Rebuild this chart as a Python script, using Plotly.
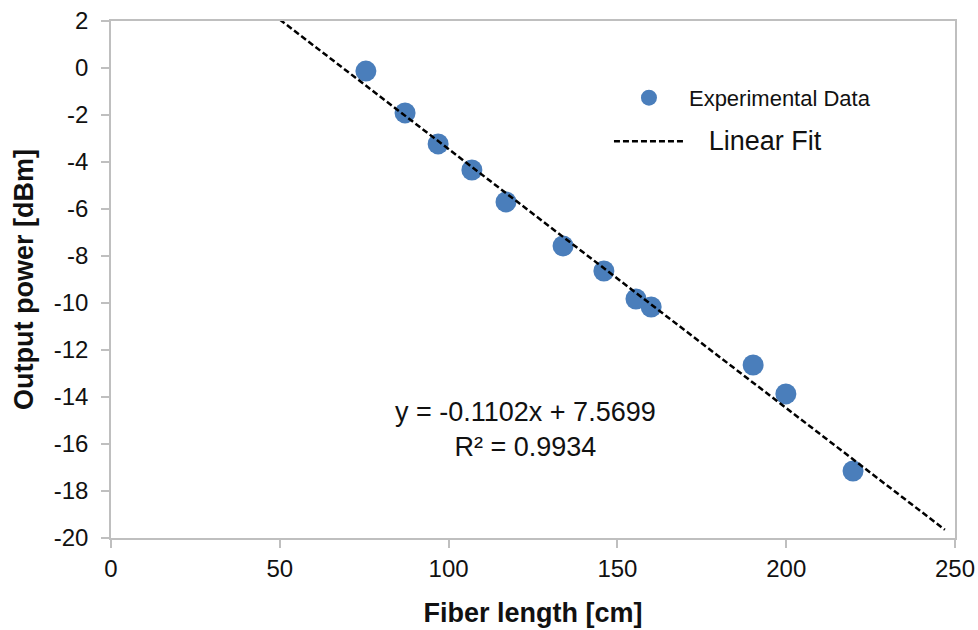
import plotly.graph_objects as go

# Data
fiber_length = [75.5, 87.1, 96.9, 106.9, 117.0, 133.9, 146.0, 155.5, 160.0, 190.2, 199.9, 219.8]
output_power = [-0.13, -1.91, -3.23, -4.34, -5.70, -7.57, -8.64, -9.83, -10.17, -12.64, -13.87, -17.15]

fit_x = [50.0, 247.0]
fit_y = [2.06, -19.65]

equation_text = "y = -0.1102x + 7.5699<br>R² = 0.9934"
eq_pos = (122.8, -15.4)

x_ticks = [0, 50, 100, 150, 200, 250]
y_ticks = list(range(-20, 3, 2))
y_tick_labels = [str(v) for v in y_ticks]

FONT = "Liberation Sans, Arial, sans-serif"
GRAY = "#bfbfbf"

fig = go.Figure()
fig.add_trace(go.Scatter(
    x=fiber_length, y=output_power, mode="markers",
    name="Experimental Data", legendgroup="a",
    marker=dict(size=21, color="#4a7ebb", line=dict(width=0)),
))
fig.add_trace(go.Scatter(
    x=fit_x, y=fit_y, mode="lines",
    name="&nbsp;&nbsp;<span style='font-size:27px'>&nbsp;Linear Fit</span>", legendgroup="b",
    line=dict(color="black", width=2.5, dash="6px,3px"),
))

fig.add_annotation(
    x=eq_pos[0], y=eq_pos[1], xref="x", yref="y",
    text=equation_text, showarrow=False, align="center",
    font=dict(family=FONT, size=27, color="#111111"),
)

axis_common = dict(
    showgrid=False, zeroline=False, showline=True, mirror=True,
    linecolor=GRAY, linewidth=1.5, ticks="outside", ticklen=8,
    tickcolor=GRAY, tickwidth=1.5, automargin=False,
    tickfont=dict(family=FONT, size=24, color="#111111"),
)

fig.update_layout(
    width=978, height=630,
    margin=dict(l=111, r=23, t=21, b=92),
    paper_bgcolor="white", plot_bgcolor="white",
    font=dict(family=FONT, color="#111111"),
    xaxis=dict(range=[0, 250], tickvals=x_ticks,
               title=dict(text="<b>Fiber length [cm]</b>", font=dict(family=FONT, size=27), standoff=23),
               **axis_common),
    yaxis=dict(range=[-20, 2], tickvals=y_ticks, ticktext=y_tick_labels,
               ticklabelstandoff=8,
               title=dict(text="<b>Output power [dBm]</b>", font=dict(family=FONT, size=27), standoff=12),
               **axis_common),
    legend=dict(x=0.59, y=0.892, xanchor="left", yanchor="top",
                font=dict(family=FONT, size=22, color="#111111"),
                bgcolor="rgba(0,0,0,0)", itemwidth=70, tracegroupgap=12,
                traceorder="grouped"),
    showlegend=True,
)

fig.write_html("out.html")
